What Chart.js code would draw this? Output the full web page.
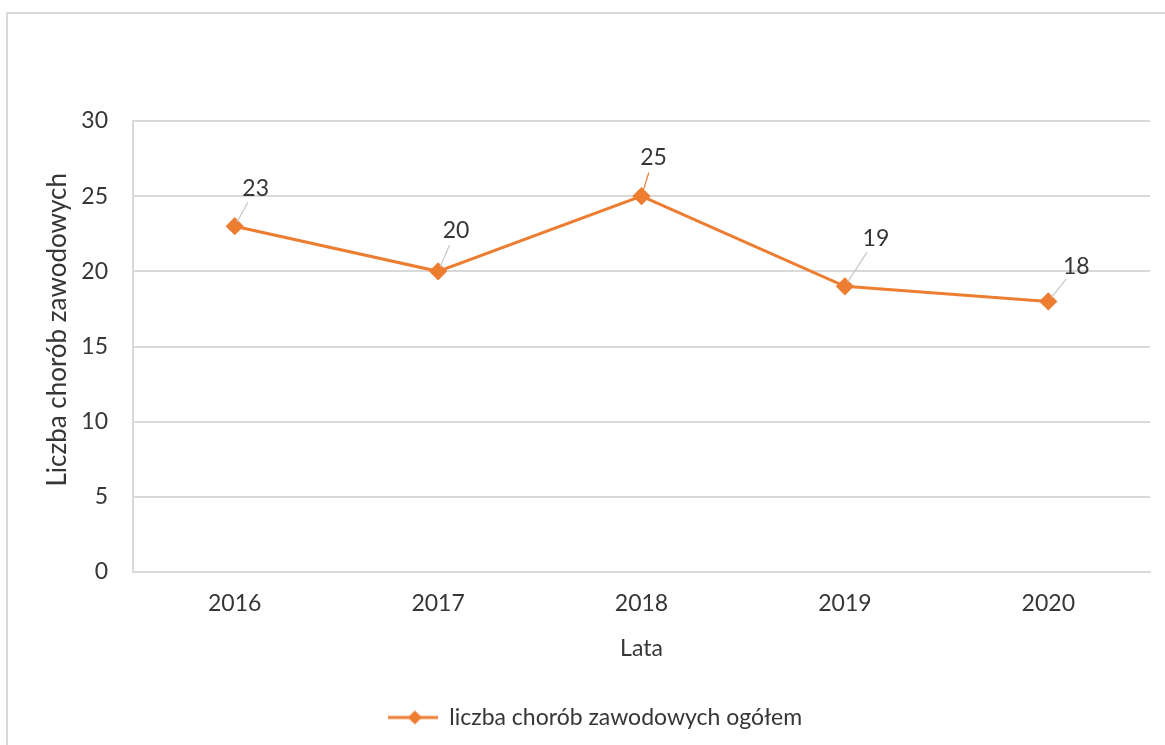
<!DOCTYPE html>
<html>
<head>
<meta charset="utf-8">
<script src="https://cdn.jsdelivr.net/npm/chart.js@4.4.0/dist/chart.umd.min.js"></script>
<style>
  html,body{margin:0;padding:0;background:#fff;overflow:hidden}
  #wrap{position:relative;width:1165px;height:745px}
  #frame{position:absolute;left:6px;top:12px;width:1200px;height:800px;border:2px solid #d9d9d9}
  canvas{position:absolute;left:0;top:0}
</style>
</head>
<body>
<div id="wrap">
  <div id="frame"></div>
  <canvas id="c" width="1165" height="745"></canvas>
</div>
<script>
const years = ['2016','2017','2018','2019','2020'];
const cases = [23, 20, 25, 19, 18];
const seriesName = 'liczba chorób zawodowych ogółem';
const yTitle = '     Liczba chorób zawodowych';
const xTitle = 'Lata';

const orange = '#ED7D31';
const txt = '#363636';
const font = 'Lato, "Open Sans", sans-serif';

// where each data label sits relative to its point, and its leader colour
const labelOffsets = [[21,-38],[18,-41],[12,-39],[31,-48],[28,-35]];
const leaderColors = ['#c8c8c8','#c8c8c8',orange,'#c8c8c8','#c8c8c8'];

function legendIcon(){
  const cv=document.createElement('canvas'); cv.width=50; cv.height=16;
  const g=cv.getContext('2d');
  g.strokeStyle=orange; g.lineWidth=3;
  g.beginPath(); g.moveTo(0,8); g.lineTo(50,8); g.stroke();
  g.fillStyle=orange; g.beginPath();
  g.moveTo(27,1); g.lineTo(34,8); g.lineTo(27,15); g.lineTo(20,8); g.closePath(); g.fill();
  return cv;
}

const dataLabels = {
  id:'dataLabels',
  afterDatasetsDraw(chart){
    const ctx=chart.ctx, meta=chart.getDatasetMeta(0);
    ctx.save();
    ctx.font='23px '+font; ctx.fillStyle=txt; ctx.textAlign='center'; ctx.textBaseline='middle';
    meta.data.forEach((pt,i)=>{
      const [dx,dy]=labelOffsets[i];
      const len=Math.hypot(dx,dy), ux=dx/len, uy=dy/len;
      ctx.strokeStyle=leaderColors[i]; ctx.lineWidth=1.2;
      ctx.beginPath();
      ctx.moveTo(pt.x+ux*5, pt.y+uy*5);
      ctx.lineTo(pt.x+dx-ux*16, pt.y+dy-uy*16);
      ctx.stroke();
      ctx.fillText(String(cases[i]), pt.x+dx, pt.y+dy);
    });
    ctx.restore();
  }
};

new Chart(document.getElementById('c'),{
  type:'line',
  data:{labels:years,datasets:[{
    label:seriesName,data:cases,
    borderColor:orange,backgroundColor:orange,borderWidth:3,
    pointStyle:'rectRot',pointRadius:7,pointHoverRadius:7,
    pointBackgroundColor:orange,pointBorderColor:orange,tension:0
  }]},
  options:{
    responsive:false,animation:false,
    layout:{padding:{left:40,right:15,top:121,bottom:6}},
    plugins:{
      tooltip:{enabled:false},
      legend:{position:'bottom',labels:{
        color:txt,font:{family:font,size:23},padding:10,
        usePointStyle:true,pointStyleWidth:50,
        generateLabels:()=>[{text:seriesName,pointStyle:legendIcon(),fillStyle:orange,strokeStyle:orange,lineWidth:0,fontColor:txt}]
      }}
    },
    scales:{
      x:{
        offset:true,
        grid:{display:false,drawTicks:false},
        border:{color:'#d9d9d9',width:2},
        ticks:{color:txt,font:{family:font,size:23},padding:18},
        title:{display:true,text:xTitle,color:txt,font:{family:font,size:23},padding:{top:0,bottom:34}},
        afterFit(s){s.height=124}
      },
      y:{
        min:0,max:30,
        grid:{color:'#d9d9d9',lineWidth:2,drawTicks:false},
        border:{color:'#d9d9d9',width:2},
        ticks:{stepSize:5,color:txt,font:{family:font,size:23},padding:25},
        title:{display:true,text:yTitle,color:txt,font:{family:font,size:26},padding:{top:2,bottom:0}},
        afterFit(s){s.width=93}
      }
    }
  },
  plugins:[dataLabels]
});
</script>
</body>
</html>
